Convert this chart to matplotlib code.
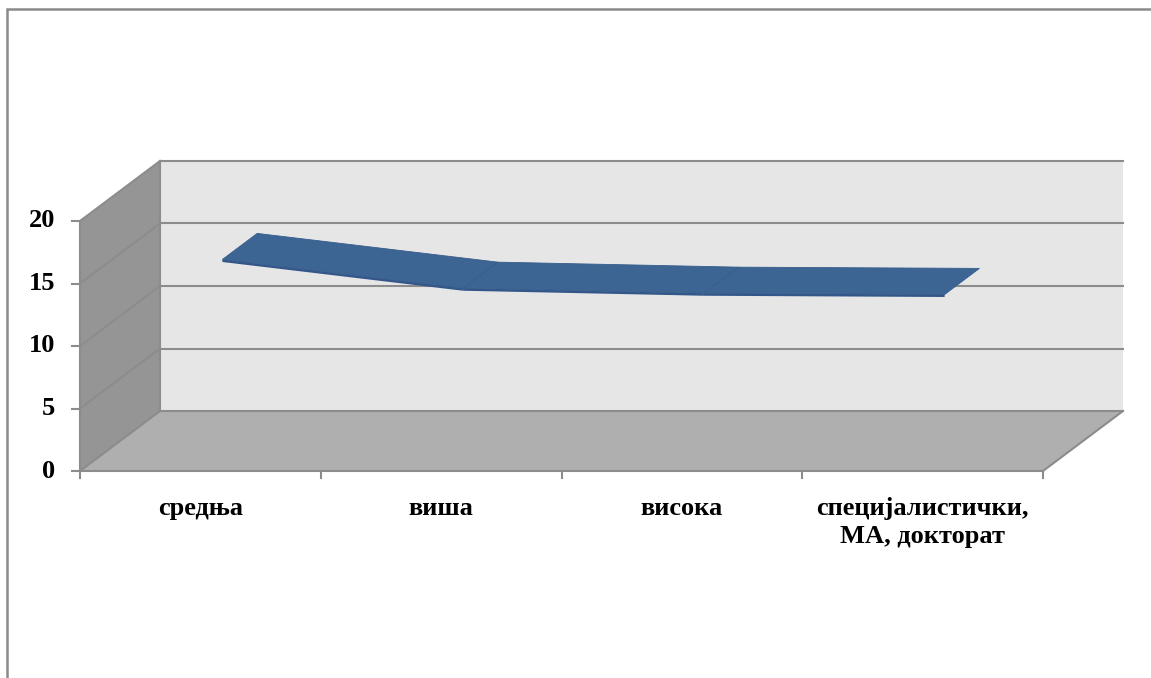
import numpy as np
import matplotlib.pyplot as plt
from matplotlib.patches import Polygon, Rectangle

# данни
categories = ['средња', 'виша', 'висока', 'специјалистички,\nМА, докторат']
values = [15.6, 13.3, 12.9, 12.8]
y_ticks = [0, 5, 10, 15, 20]

# геометрија (Excel 3D изглед)
PX_CAT = 240.75      # пиксели по категорији
PX_VAL = 12.5        # пиксели по јединици
DX = 80 / PX_CAT     # померај дубине по x
DY = 60 / PX_VAL     # померај дубине по y
D0, D1 = 0.275, 0.71  # дубина траке

GRID = '#8c8c8c'
FONT = dict(family='Liberation Serif', weight='bold', color='black')


def proj(x, y, d):
    return x + d * DX, y + d * DY


fig = plt.figure(figsize=(11.51, 6.78), dpi=100)
ax = fig.add_axes([0, 0, 1, 1])
ax.set_xlim(-80 / PX_CAT, (1151 - 80) / PX_CAT)
ax.set_ylim((471 - 678) / PX_VAL, 471 / PX_VAL)
ax.axis('off')

n = len(categories)
ymax = y_ticks[-1]

# задњи зид
ax.add_patch(Polygon([proj(0, 0, 1), proj(n, 0, 1), proj(n, ymax, 1), proj(0, ymax, 1)],
                     closed=True, facecolor='#e6e6e6', edgecolor='none', zorder=1))
# леви зид
ax.add_patch(Polygon([(0, 0), proj(0, 0, 1), proj(0, ymax, 1), (0, ymax)],
                     closed=True, facecolor='#959595', edgecolor='none', zorder=1))
# под
ax.add_patch(Polygon([(0, 0), (n, 0), proj(n, 0, 1), proj(0, 0, 1)],
                     closed=True, facecolor='#afafaf', edgecolor='none', zorder=1))

# мрежне линије
for v in y_ticks:
    xb, yb = proj(0, v, 1)
    ax.plot([0, xb], [v, yb], color=GRID, lw=1.5, zorder=2)
    if v > 0:
        ax.plot([xb, xb + n], [yb, yb], color=GRID, lw=1.5, zorder=2)
ax.plot([DX, DX], [DY, ymax + DY], color=GRID, lw=1.5, zorder=2)
ax.plot([DX, DX + n], [DY, DY], color=GRID, lw=1.5, zorder=2)
ax.plot([n, n + DX], [0, DY], color=GRID, lw=1.5, zorder=2)

# осе
ax.plot([0, 0], [0, ymax], color=GRID, lw=1.5, zorder=3)
ax.plot([0, n], [0, 0], color=GRID, lw=1.5, zorder=3)
for v in y_ticks:
    ax.plot([-8 / PX_CAT, 0], [v, v], color=GRID, lw=1.5, zorder=3)
    ax.text(-25 / PX_CAT, v, str(v), ha='right', va='center', fontsize=19, **FONT)
for i in range(n + 1):
    ax.plot([i, i], [0, -7 / PX_VAL], color=GRID, lw=1.5, zorder=3)

for i, c in enumerate(categories):
    ax.text(i + 0.5, -26 / PX_VAL, c, ha='center', va='top', fontsize=19,
            linespacing=1.3, **FONT)

# трака (3D линија)
xs = np.arange(n) + 0.5
thick = 2.5 / PX_VAL
for i in range(n - 1):
    top = [proj(xs[i], values[i], D0), proj(xs[i + 1], values[i + 1], D0),
           proj(xs[i + 1], values[i + 1], D1), proj(xs[i], values[i], D1)]
    ax.add_patch(Polygon(top, closed=True, facecolor='#3c6594', edgecolor='#365d8b',
                         lw=0.6, zorder=5))
    f0 = proj(xs[i], values[i], D0)
    f1 = proj(xs[i + 1], values[i + 1], D0)
    front = [f0, f1, (f1[0], f1[1] - thick), (f0[0], f0[1] - thick)]
    ax.add_patch(Polygon(front, closed=True, facecolor='#33578a', edgecolor='none',
                         zorder=6))

# оквир графикона
fig.patches.append(Rectangle((7 / 1151, -0.1), 1.2, (678 - 9) / 678 + 0.1,
                             transform=fig.transFigure, fill=False,
                             edgecolor='#8a8a8a', lw=1.8))

fig.savefig('out.png', dpi=100)
